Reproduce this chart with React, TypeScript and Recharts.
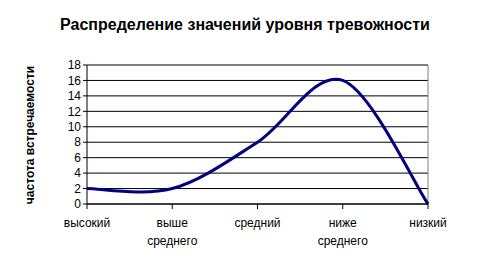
import React from 'react';
import { LineChart, Line, XAxis, YAxis, CartesianGrid, ReferenceLine } from 'recharts';

const categories = ['высокий', 'выше среднего', 'средний', 'ниже среднего', 'низкий'];
const frequency = [2, 2, 8, 16, 0];
const yTicks = [0, 2, 4, 6, 8, 10, 12, 14, 16, 18];

const data = categories.map((level, i) => ({ level, value: frequency[i] }));

const FONT = '"Liberation Sans", Arial, sans-serif';

// Excel-like smoothed line (cubic bezier through every point)
const smoothCurve = (context: any) => {
  let pts: [number, number][] = [];
  return {
    areaStart() {},
    areaEnd() {},
    lineStart() {
      pts = [];
    },
    point(x: number, y: number) {
      pts.push([+x, +y]);
    },
    lineEnd() {
      if (!pts.length) return;
      context.moveTo(pts[0][0], pts[0][1]);
      const n = pts.length;
      for (let i = 0; i < n - 1; i++) {
        const p0 = pts[Math.max(i - 1, 0)];
        const p1 = pts[i];
        const p2 = pts[i + 1];
        const p3 = pts[Math.min(i + 2, n - 1)];
        context.bezierCurveTo(
          p1[0] + (p2[0] - p0[0]) / 6,
          p1[1] + (p2[1] - p0[1]) / 6,
          p2[0] - (p3[0] - p1[0]) / 6,
          p2[1] - (p3[1] - p1[1]) / 6,
          p2[0],
          p2[1]
        );
      }
    },
  };
};

const CategoryTick = (props: any) => {
  const { x, y, payload } = props;
  const lines = String(payload.value).split(' ');
  return (
    <text x={x} y={y} textAnchor="middle" fontFamily={FONT} fontSize={12} fill="#000">
      {lines.map((t, i) => (
        <tspan key={i} x={x} dy={i === 0 ? 16 : 18}>
          {t}
        </tspan>
      ))}
    </text>
  );
};

export default function App() {
  return (
    <div style={{ position: 'absolute', left: 0, top: 0, width: 492, height: 268, background: '#fff' }}>
      <svg width={492} height={268} style={{ position: 'absolute', left: 0, top: 0 }}>
        <text x={245} y={30} textAnchor="middle" fontFamily={FONT} fontSize={16} fontWeight="bold" fill="#000">
          Распределение значений уровня тревожности
        </text>
        <text
          x={34}
          y={135}
          textAnchor="middle"
          fontFamily={FONT}
          fontSize={12}
          fontWeight="bold"
          fill="#000"
          transform="rotate(-90 34 135)"
        >
          частота встречаемости
        </text>
      </svg>
      <div style={{ position: 'absolute', left: 0, top: 0 }}>
        <LineChart width={492} height={268} data={data} margin={{ top: 65, right: 64, bottom: 0, left: 0 }}>
          <CartesianGrid horizontal vertical={false} stroke="#000" strokeWidth={1} />
          <ReferenceLine y={18} stroke="#808080" strokeWidth={1} />
          <ReferenceLine x="низкий" stroke="#808080" strokeWidth={1} />
          <XAxis
            dataKey="level"
            height={64}
            interval={0}
            tick={<CategoryTick />}
            tickSize={5}
            stroke="#000"
            axisLine={{ stroke: '#000' }}
            tickLine={{ stroke: '#000' }}
          />
          <YAxis
            width={87}
            domain={[0, 18]}
            ticks={yTicks}
            interval={0}
            tickSize={4}
            tickMargin={2}
            axisLine={{ stroke: '#000' }}
            tickLine={{ stroke: '#000' }}
            tick={{ fontFamily: FONT, fontSize: 12, fill: '#000' }}
          />
          <Line
            type={smoothCurve as any}
            dataKey="value"
            stroke="#000080"
            strokeWidth={3}
            dot={false}
            isAnimationActive={false}
          />
        </LineChart>
      </div>
    </div>
  );
}
